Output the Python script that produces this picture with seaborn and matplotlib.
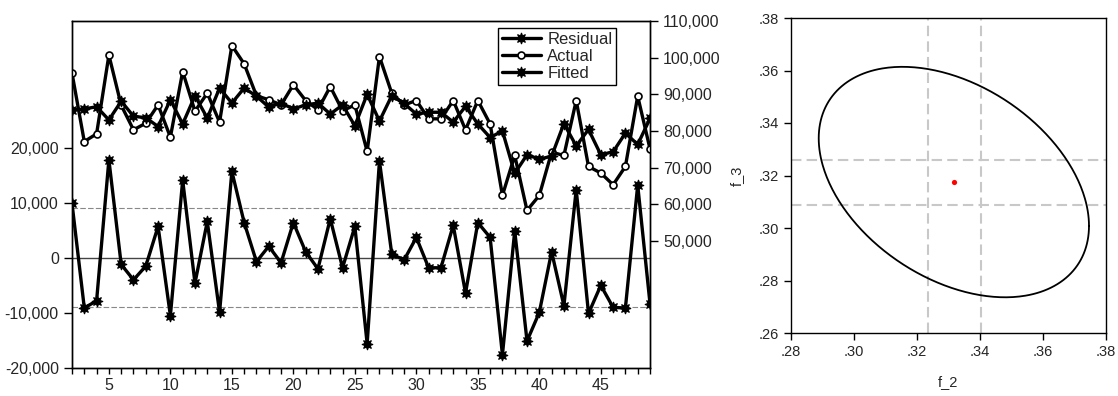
import numpy as np
import matplotlib
matplotlib.use('Agg')
import matplotlib.pyplot as plt
import seaborn as sns
from matplotlib.ticker import FuncFormatter, MultipleLocator, FixedLocator

# --- left panel: residual / actual / fitted (obs 2..49) ---
obs = list(range(2, 50))
residual = [9900, -9100, -7800, 17800, -1200, -4000, -1500, 5700, -10500, 14100,
            -4600, 6600, -9900, 15700, 6400, -700, 2100, -900, 6400, 1100,
            -2000, 7100, -1800, 5700, -15600, 17600, 700, -400, 3700, -1800,
            -1800, 5900, -6400, 6400, 3700, -17600, 4900, -15100, -9900, 1100,
            -8700, 12400, -10100, -5000, -9000, -9100, 13200, -8300]
actual = [95800, 77100, 79200, 100700, 87000, 80300, 82100, 87100, 78300, 96200,
          85400, 90300, 82400, 103300, 98300, 89600, 88500, 87100, 92600, 88300,
          85800, 92100, 85500, 87100, 74400, 100300, 90300, 87100, 88300, 83300,
          83300, 88300, 80300, 88300, 81900, 62400, 73300, 58300, 62400, 74200,
          73300, 88300, 70300, 68500, 65300, 70300, 89500, 75100]
fitted = [85700, 86000, 86600, 83000, 88100, 84000, 83600, 81200, 88500, 81900,
          89600, 83500, 91700, 87600, 91700, 89500, 86500, 87600, 86000, 87100,
          87600, 84600, 87100, 81400, 90000, 82700, 89600, 87500, 84600, 85100,
          85100, 82400, 86700, 81900, 78200, 80000, 68400, 73500, 72300, 73100,
          82000, 75900, 80400, 73500, 74300, 79400, 76300, 83400]
resid_se = 9000
left_ticks = [-20000, -10000, 0, 10000, 20000]
right_ticks = [50000, 60000, 70000, 80000, 90000, 100000, 110000]

# --- right panel: confidence ellipse for f_2, f_3 ---
coef_f2 = 0.3317
coef_f3 = 0.3175
ci_f2 = [0.3234, 0.3403]
ci_f3 = [0.3088, 0.3259]
ell_half_f2 = 0.0429
ell_half_f3 = 0.0439
ell_corr = -0.38

sns.set_style('ticks')
plt.rcParams['font.family'] = ['Liberation Sans', 'DejaVu Sans']
plt.rcParams['axes.linewidth'] = 1.0

W, H = 1118, 396
fig = plt.figure(figsize=(W / 100, H / 100), dpi=100)
fig.patch.set_facecolor('white')

star = (8, 1, 0)
fs = 11.5

ax = fig.add_axes([72 / W, (H - 368) / H, (650 - 72) / W, (368 - 21) / H])
ax2 = ax.twinx()

ax.axhline(0, color='#444444', lw=1.0, zorder=1)
for v in (resid_se, -resid_se):
    ax.axhline(v, color='#888888', lw=0.8, ls=(0, (5, 2)), zorder=1)

sns.lineplot(x=obs, y=residual, ax=ax, color='black', lw=2.4, marker=star,
             markersize=8, mfc='black', mec='black', label='Residual', legend=False)
sns.lineplot(x=obs, y=actual, ax=ax2, color='black', lw=2.4, marker='o',
             markersize=5, mfc='white', mec='black', mew=1.2, label='Actual', legend=False)
sns.lineplot(x=obs, y=fitted, ax=ax2, color='black', lw=2.4, marker=star,
             markersize=8, mfc='black', mec='black', label='Fitted', legend=False)

ax.set_xlim(2, 49)
ax.set_ylim(-20000, 43000)
ax2.set_ylim(15300, 110000)
ax.yaxis.set_major_locator(FixedLocator(left_ticks))
ax2.yaxis.set_major_locator(FixedLocator(right_ticks))
comma = FuncFormatter(lambda v, p: f'{v:,.0f}')
ax.yaxis.set_major_formatter(comma)
ax2.yaxis.set_major_formatter(comma)
ax.xaxis.set_major_locator(MultipleLocator(5))
ax.xaxis.set_minor_locator(MultipleLocator(1))
ax.tick_params(axis='x', which='both', direction='out', length=4, width=1,
               labelsize=fs, color='black', pad=3)
ax.tick_params(axis='y', direction='out', length=6, width=1, labelsize=fs, color='black')
ax2.tick_params(axis='y', direction='out', length=6, width=1, labelsize=fs, color='black')
ax.set_xlabel('')
ax.set_ylabel('')
ax2.set_ylabel('')
for a in (ax, ax2):
    for s in a.spines.values():
        s.set_visible(True)
        s.set_color('black')

h1, l1 = ax.get_legend_handles_labels()
h2, l2 = ax2.get_legend_handles_labels()
leg = ax2.legend(h1 + h2, l1 + l2, loc='upper left',
                 bbox_to_anchor=(498 / W, 1 - 28 / H), bbox_transform=fig.transFigure,
                 fontsize=12, frameon=True, fancybox=False, framealpha=1,
                 edgecolor='black', handlelength=2.3, handletextpad=0.4,
                 labelspacing=0.1, borderpad=0.25, borderaxespad=0)
leg.get_frame().set_linewidth(1.0)

# --- right panel ---
ax3 = fig.add_axes([791 / W, (H - 333) / H, (1106 - 791) / W, (333 - 18) / H])
for v in ci_f2:
    ax3.axvline(v, color='#c8c8c8', lw=1.5, ls=(0, (5, 2.5)), zorder=1)
for v in ci_f3:
    ax3.axhline(v, color='#c8c8c8', lw=1.5, ls=(0, (5, 2.5)), zorder=1)

t = np.linspace(0, 2 * np.pi, 361)
ex = coef_f2 + ell_half_f2 * np.cos(t)
ey = coef_f3 + ell_half_f3 * (ell_corr * np.cos(t) + np.sqrt(1 - ell_corr ** 2) * np.sin(t))
sns.lineplot(x=ex, y=ey, ax=ax3, sort=False, estimator=None, color='black', lw=1.3)
sns.scatterplot(x=[coef_f2], y=[coef_f3], ax=ax3, color='red', s=14, linewidth=0, zorder=3)

ax3.set_xlim(0.28, 0.38)
ax3.set_ylim(0.26, 0.38)
ax3.xaxis.set_major_locator(MultipleLocator(0.02))
ax3.yaxis.set_major_locator(MultipleLocator(0.02))
dot = FuncFormatter(lambda v, p: f'{v:.2f}'.lstrip('0'))
ax3.xaxis.set_major_formatter(dot)
ax3.yaxis.set_major_formatter(dot)
ax3.tick_params(direction='out', length=5, width=1, labelsize=10.5, color='black')
ax3.set_xlabel('f_2', fontsize=10.5, labelpad=12)
ax3.set_ylabel('f_3', fontsize=10.5, labelpad=11)
for s in ax3.spines.values():
    s.set_visible(True)
    s.set_color('black')

fig.savefig('out.png', dpi=100, facecolor='white')
